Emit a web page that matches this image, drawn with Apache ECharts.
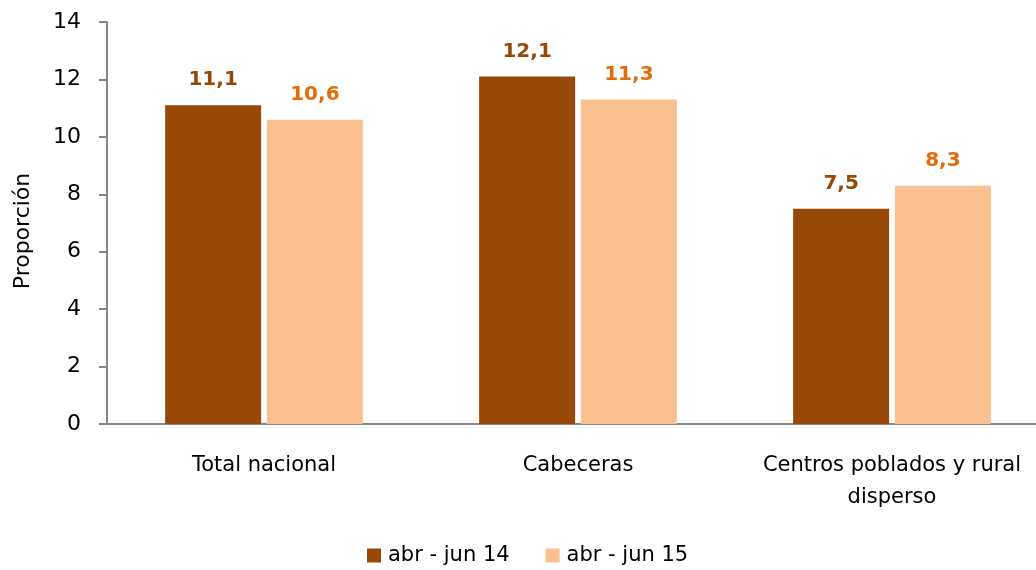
<!DOCTYPE html>
<html>
<head>
<meta charset="utf-8">
<script src="https://cdn.jsdelivr.net/npm/echarts@6/dist/echarts.min.js"></script>
<style>
  html, body { margin: 0; padding: 0; background: #fff; }
  #main { width: 1036px; height: 570px; }
</style>
</head>
<body>
<div id="main"></div>
<script>
// datos
var categorias = ["Total nacional", "Cabeceras", "Centros poblados y rural\ndisperso"];
var serie14 = [11.1, 12.1, 7.5];
var serie15 = [10.6, 11.3, 8.3];
var nombres = ["abr - jun 14", "abr - jun 15"];

var fuente = "'DejaVu Sans', sans-serif";
var chart = echarts.init(document.getElementById('main'));

function etiqueta(color) {
    return {
        show: true,
        position: 'top',
        distance: 15,
        color: color,
        fontFamily: fuente,
        fontWeight: 'bold',
        fontSize: 20,
        formatter: function (p) { return p.value.toFixed(1).replace('.', ','); }
    };
}

var option = {
    animation: false,
    // el area de trazado sigue un poco fuera del borde derecho
    grid: { left: 107, width: 942, top: 22, bottom: 146, outerBoundsMode: 'none', containLabel: false },
    legend: {
        data: nombres,
        left: 367,
        top: 545,
        padding: 0,
        itemWidth: 14,
        itemHeight: 14,
        itemGap: 36,
        icon: 'rect',
        textStyle: { fontFamily: fuente, fontSize: 21, color: '#000', padding: [0, 0, 0, 2] }
    },
    xAxis: {
        type: 'category',
        data: categorias,
        axisTick: { show: false },
        axisLine: { lineStyle: { color: '#868686', width: 2 } },
        axisLabel: { interval: 0, hideOverlap: false, color: '#000', fontFamily: fuente, fontSize: 21, margin: 26, lineHeight: 32 }
    },
    yAxis: {
        type: 'value',
        min: 0,
        max: 14,
        interval: 2,
        name: 'Proporción',
        nameLocation: 'middle',
        nameGap: 73,
        nameTextStyle: { color: '#000', fontFamily: fuente, fontSize: 22, padding: [0, 16, 0, 0] },
        splitLine: { show: false },
        axisLine: { show: true, lineStyle: { color: '#868686', width: 2 } },
        axisTick: { show: true, inside: false, length: 8, lineStyle: { color: '#868686', width: 2 } },
        axisLabel: { color: '#000', fontFamily: fuente, fontSize: 22, margin: 26 }
    },
    series: [
        {
            name: nombres[0],
            type: 'bar',
            data: serie14,
            barWidth: 96,
            barGap: '6%',
            itemStyle: { color: '#984807' },
            label: etiqueta('#984807')
        },
        {
            name: nombres[1],
            type: 'bar',
            data: serie15,
            barWidth: 96,
            itemStyle: { color: '#FAC090' },
            label: etiqueta('#E46C0A')
        }
    ]
};
chart.setOption(option);
</script>
</body>
</html>
